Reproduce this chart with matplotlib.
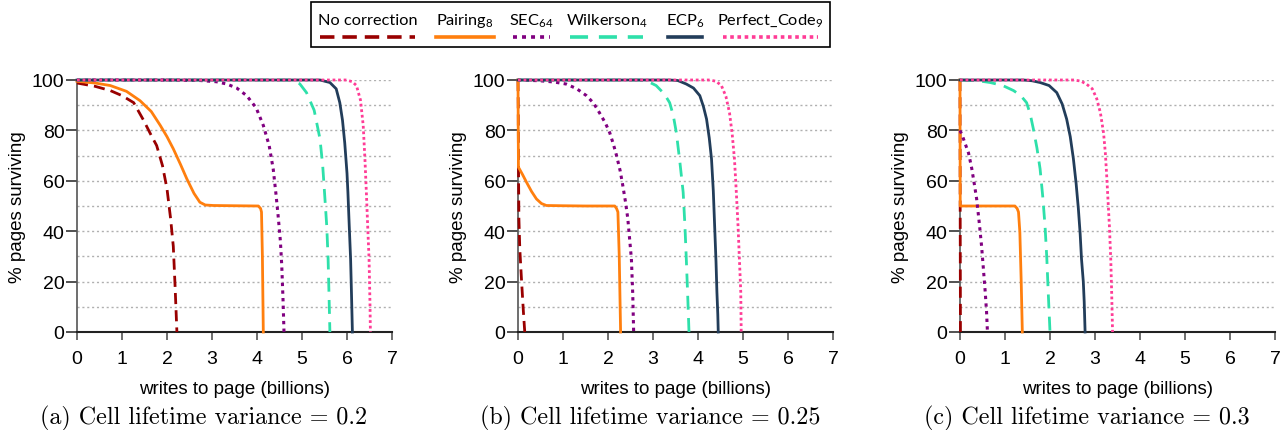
import matplotlib.pyplot as plt
from matplotlib.lines import Line2D
from matplotlib.patches import Rectangle

plt.rcParams['font.family'] = ['Liberation Sans', 'DejaVu Sans']
plt.rcParams['mathtext.fontset'] = 'dejavusans'

# ---- data, x in billions of writes, y in % pages surviving
# panel (a) variance 0.2
a_nocorr_x = [0, 0.4, 0.74, 1.0, 1.26, 1.48, 1.65, 1.77, 1.9, 2.0, 2.08, 2.14, 2.18, 2.22]
a_nocorr_y = [98.8, 97.5, 95.8, 93.8, 91, 84, 78, 74, 66, 56.8, 45, 34, 18, 0]
a_pair_x = [0, 0.4, 0.74, 1.1, 1.4, 1.65, 1.85, 2.0, 2.14, 2.3, 2.44, 2.6, 2.73, 2.85, 3.03, 3.5, 4.03, 4.08, 4.1, 4.12, 4.14]
a_pair_y = [99.5, 98.8, 97.8, 95.5, 91.8, 87.5, 82, 77.5, 72.7, 66.5, 60.8, 55, 51.5, 50.4, 50.2, 50.1, 50, 49, 47.6, 30, 0]
a_sec_x = [0, 2.0, 2.73, 3.1, 3.33, 3.55, 3.77, 3.98, 4.14, 4.27, 4.36, 4.42, 4.47, 4.52, 4.55, 4.58, 4.6]
a_sec_y = [100, 100, 99.8, 99.3, 98.4, 96.8, 93.8, 89, 82, 74, 64.7, 55, 46, 36, 26.4, 12, 0]
a_wilk_x = [0, 4.73, 4.95, 5.1, 5.27, 5.4, 5.46, 5.5, 5.55, 5.58, 5.6, 5.62]
a_wilk_y = [100, 100, 98.5, 95, 88, 76.6, 66, 55.5, 42, 29, 15, 0]
a_ecp_x = [0, 5.4, 5.62, 5.76, 5.84, 5.9, 5.95, 6.0, 6.02, 6.05, 6.08, 6.1, 6.12]
a_ecp_y = [100, 100, 99, 96.5, 91, 84, 75, 63, 55.5, 42, 29, 15, 0]
a_perf_x = [0, 5.99, 6.12, 6.21, 6.3, 6.36, 6.4, 6.43, 6.46, 6.49, 6.51, 6.52]
a_perf_y = [100, 100, 99.3, 97.8, 92, 82, 68, 55.5, 42, 29, 12, 0]

# panel (b) variance 0.25
b_nocorr_x = [0, 0.005, 0.01, 0.02, 0.04, 0.08, 0.12, 0.15]
b_nocorr_y = [100, 90, 68, 45, 33, 20, 8, 0]
b_pair_x = [0, 0.005, 0.01, 0.1, 0.19, 0.3, 0.41, 0.52, 0.63, 1.0, 1.5, 2.15, 2.19, 2.22, 2.25, 2.28]
b_pair_y = [100, 80, 65.4, 62.5, 59.4, 55.8, 52.8, 51, 50.2, 50.1, 50, 50, 49, 47.6, 30, 0]
b_sec_x = [0, 0.48, 0.8, 1.07, 1.3, 1.52, 1.68, 1.81, 1.94, 2.04, 2.12, 2.19, 2.27, 2.33, 2.39, 2.44, 2.48, 2.52, 2.55, 2.57]
b_sec_y = [100, 99.7, 99.2, 98.4, 96.6, 93.8, 90.8, 87, 83, 79, 74.5, 70, 64, 58, 51.5, 45, 37, 29, 15, 0]
b_wilk_x = [0, 2.7, 2.9, 3.07, 3.25, 3.37, 3.45, 3.52, 3.6, 3.67, 3.71, 3.74, 3.77, 3.8]
b_wilk_y = [100, 100, 99.3, 97.8, 94.5, 91, 86, 79, 67, 55.5, 42, 29, 15, 0]
b_ecp_x = [0, 3.37, 3.55, 3.74, 3.9, 4.04, 4.12, 4.19, 4.25, 4.3, 4.34, 4.37, 4.4, 4.42, 4.44, 4.45]
b_ecp_y = [100, 100, 99.8, 98.4, 96.8, 93.8, 89.5, 84.5, 77, 68.7, 56, 42, 28, 16, 7, 0]
b_perf_x = [0, 4.26, 4.4, 4.52, 4.62, 4.7, 4.76, 4.81, 4.85, 4.89, 4.92, 4.95, 4.96]
b_perf_y = [100, 100, 99.5, 97.8, 93.5, 87, 78.5, 68.7, 56, 42, 29, 16, 0]

# panel (c) variance 0.3
c_nocorr_x = [0, 0.002, 0.004, 0.007, 0.01]
c_nocorr_y = [100, 75, 50, 25, 0]
c_pair_x = [0, 0.002, 0.005, 0.2, 0.6, 1.0, 1.22, 1.27, 1.3, 1.33, 1.36, 1.385]
c_pair_y = [100, 75, 50, 50, 50, 50, 50, 49, 47.6, 39.6, 20, 0]
c_sec_x = [0, 0.05, 0.12, 0.19, 0.26, 0.32, 0.37, 0.43, 0.48, 0.52, 0.56, 0.59, 0.61]
c_sec_y = [80, 78, 74.5, 71, 65, 58.5, 52.8, 43, 34, 25, 16, 8, 0]
c_wilk_x = [0, 0.4, 0.67, 0.95, 1.19, 1.35, 1.48, 1.56, 1.63, 1.71, 1.78, 1.84, 1.89, 1.93, 1.96, 1.98, 2.0]
c_wilk_y = [100, 99.7, 99, 97.8, 95.8, 93.8, 91, 86.5, 80.6, 73, 64.7, 53.5, 42, 29, 16, 8, 0]
c_ecp_x = [0, 1.41, 1.6, 1.78, 1.98, 2.15, 2.27, 2.37, 2.45, 2.52, 2.58, 2.63, 2.67, 2.7, 2.74, 2.76, 2.78]
c_ecp_y = [100, 100, 99.7, 99, 97.8, 95, 90.5, 84.5, 77.5, 68.7, 59, 49, 39, 29, 20, 12, 0]
c_perf_x = [0, 2.52, 2.68, 2.81, 2.94, 3.04, 3.12, 3.19, 3.23, 3.26, 3.29, 3.32, 3.35, 3.37, 3.39]
c_perf_y = [100, 100, 99.6, 98.4, 96.5, 92.5, 87, 79, 71, 62, 52, 42, 29, 16, 0]

series_names = ['No correction', 'Pairing$_{\\mathregular{8}}$', 'SEC$_{\\mathregular{64}}$',
                'Wilkerson$_{\\mathregular{4}}$', 'ECP$_{\\mathregular{6}}$', 'Perfect_Code$_{\\mathregular{9}}$']
series_colors = ['#990000', '#ff7f0e', '#800080', '#2ee0aa', '#223d5a', '#ff3c96']
series_styles = [
    dict(lw=2.0, dashes=(4, 2.2)),
    dict(lw=2.0, ls='-'),
    dict(lw=2.2, dashes=(1.1, 1.4)),
    dict(lw=2.0, dashes=(5, 3)),
    dict(lw=2.0, ls='-'),
    dict(lw=2.0, dashes=(1, 1)),
]

panels = [
    ('(a) Cell lifetime variance = 0.2',
     [(a_nocorr_x, a_nocorr_y), (a_pair_x, a_pair_y), (a_sec_x, a_sec_y),
      (a_wilk_x, a_wilk_y), (a_ecp_x, a_ecp_y), (a_perf_x, a_perf_y)]),
    ('(b) Cell lifetime variance = 0.25',
     [(b_nocorr_x, b_nocorr_y), (b_pair_x, b_pair_y), (b_sec_x, b_sec_y),
      (b_wilk_x, b_wilk_y), (b_ecp_x, b_ecp_y), (b_perf_x, b_perf_y)]),
    ('(c) Cell lifetime variance = 0.3',
     [(c_nocorr_x, c_nocorr_y), (c_pair_x, c_pair_y), (c_sec_x, c_sec_y),
      (c_wilk_x, c_wilk_y), (c_ecp_x, c_ecp_y), (c_perf_x, c_perf_y)]),
]

W, H = 1284, 431
fig = plt.figure(figsize=(W / 100, H / 100), dpi=100)

lefts = [77, 518, 960]
caption_x = [204, 650, 1087]
for (caption, curves), left, cx in zip(panels, lefts, caption_x):
    ax = fig.add_axes([left / W, 1 - 333 / H, 315 / W, 252 / H])
    for (xs, ys), color, st in zip(curves, series_colors, series_styles):
        ax.plot(xs, ys, color=color, clip_on=False, zorder=3, **st)
    ax.set_xlim(0, 7)
    ax.set_ylim(0, 100)
    ax.set_xticks(range(8))
    ax.set_yticks(range(0, 101, 20))
    ax.set_yticks(range(10, 101, 10), minor=True)
    ax.grid(True, which='both', axis='y', color='#b0b0b0', ls=(0, (1.5, 2)), lw=1)
    for s in ['top', 'right']:
        ax.spines[s].set_visible(False)
    ax.spines['left'].set_color('#555555')
    ax.spines['bottom'].set_color('#222222')
    ax.spines['left'].set_linewidth(1.2)
    ax.spines['bottom'].set_linewidth(1.5)
    ax.tick_params(axis='y', which='major', length=8, width=1.2, color='#333333', pad=1, labelsize=14)
    ax.tick_params(axis='y', which='minor', length=0)
    ax.tick_params(axis='x', length=6, width=1.2, color='#555555', pad=7, labelsize=14)
    ax.set_xlabel('writes to page (billions)', fontsize=13.5, labelpad=9)
    ax.set_ylabel('% pages surviving', fontsize=13.5, labelpad=4)
    fig.text(cx / W, 1 - 418 / H, caption, ha='center', va='center',
             fontsize=17.3, family=['cmr10', 'DejaVu Serif'])

# legend box drawn across the top
box_l, box_r, box_t, box_b = 311, 830, 3, 48
fig.patches.append(Rectangle((box_l / W, 1 - box_b / H), (box_r - box_l) / W, (box_b - box_t) / H,
                             transform=fig.transFigure, fill=False, ec='black', lw=1.2))
leg_x0 = [320, 436, 513, 570, 668, 723]
leg_x1 = [415, 494, 550, 643, 702, 818]
for name, color, st, x0, x1 in zip(series_names, series_colors, series_styles, leg_x0, leg_x1):
    fig.text((x0 + x1) / 2 / W, 1 - 21 / H, name, ha='center', va='center', fontsize=11.8,
             family=['Lato', 'DejaVu Sans'])
    st2 = dict(st)
    st2['lw'] = 2.6
    fig.add_artist(Line2D([x0 / W, x1 / W], [1 - 38 / H, 1 - 38 / H], color=color,
                          transform=fig.transFigure, **st2))

fig.savefig('out.png', dpi=100)
